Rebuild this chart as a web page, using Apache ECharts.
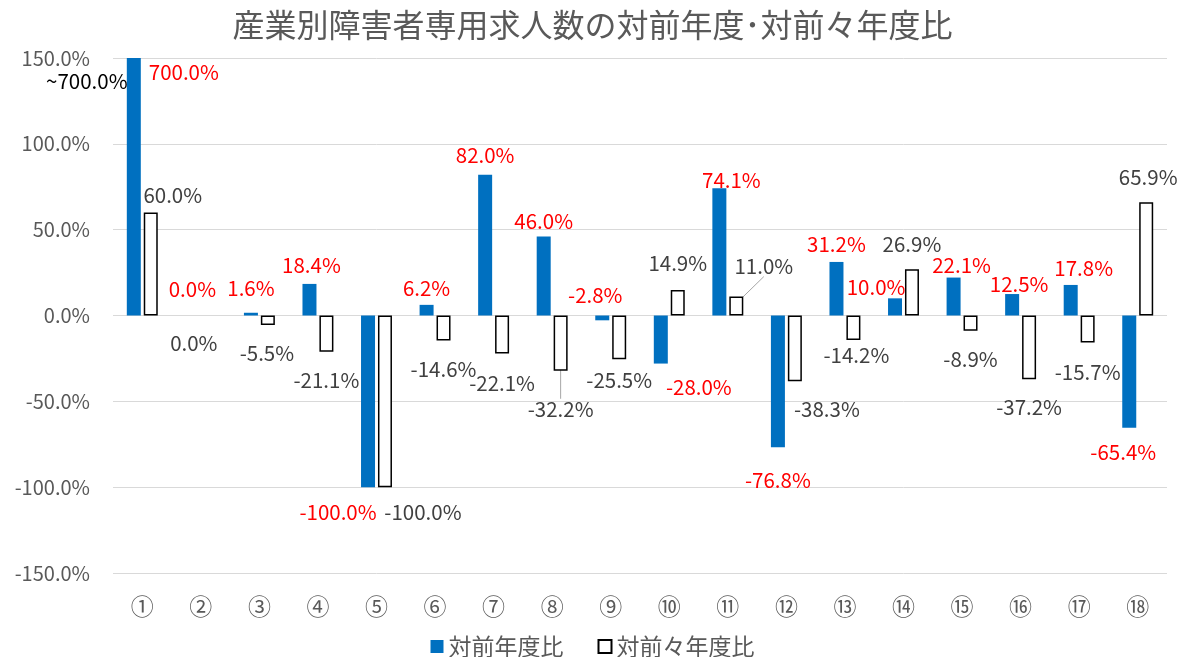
<!DOCTYPE html>
<html><head><meta charset="utf-8">
<script src="https://cdn.jsdelivr.net/npm/echarts@6/dist/echarts.min.js"></script>
<style>html,body{margin:0;padding:0;background:#fff}#c{width:1185px;height:657px}</style>
</head><body><div id="c"></div>
<script>
// ---- data ----
const titleText = '産業別障害者専用求人数の対前年度･対前々年度比';
const categories = ['①','②','③','④','⑤','⑥','⑦','⑧','⑨','⑩','⑪','⑫','⑬','⑭','⑮','⑯','⑰','⑱'];
const seriesNames = ['対前年度比', '対前々年度比'];
const yoyValues = [700.0, 0.0, 1.6, 18.4, -100.0, 6.2, 82.0, 46.0, -2.8, -28.0, 74.1, -76.8, 31.2, 10.0, 22.1, 12.5, 17.8, -65.4];
const twoYearValues = [60.0, 0.0, -5.5, -21.1, -100.0, -14.6, -22.1, -32.2, -25.5, 14.9, 11.0, -38.3, -14.2, 26.9, -8.9, -37.2, -15.7, 65.9];
const yMin = -150, yMax = 150, yInterval = 50;
const breakNote = '~700.0%';

// ---- label placement (position, dx, dy) ----
const yoyLabelLayout = [
  ['top',50,29.5],['top',0,-11.5],['top',0,-9],['top',2,-3],['bottom',-30,10],['top',0,-1],
  ['top',0,-4],['top',0,0],['top',-7,-5.5],['bottom',38,8],['top',12,7],['bottom',0,18],
  ['top',0,-2],['top',-19,4],['top',8,3],['top',7,5],['top',13,-1],['bottom',-6,9]
];
const twoLabelLayout = [
  ['top',22,-2.5],['bottom',-15.5,12.5],['bottom',-1,13],['bottom',0,13],['bottom',38,10],['bottom',0,13],
  ['bottom',0,15],['bottom',0,23],['bottom',0,6],['top',0,-11],['top',27.5,-15],['bottom',32,13],
  ['bottom',3,0],['top',0,-10],['bottom',0,13],['bottom',0,13],['bottom',0,14.5],['top',2,-9.5]
];
const guideLineItems = [7, 10];

const FONT = '"Noto Sans CJK JP", "Noto Sans", sans-serif';
const GREY = '#595959';
const fmt = v => v.toFixed(1) + '%';
const layouts = [yoyLabelLayout, twoLabelLayout];
const LBL = 20.5;

const chart = echarts.init(document.getElementById('c'), null, {renderer: 'canvas'});
chart.setOption({
  animation: false,
  backgroundColor: '#fff',
  textStyle: {fontFamily: FONT},
  title: {
    text: titleText, left: 'center', top: 4,
    textStyle: {fontFamily: FONT, fontSize: 32, fontWeight: 'normal', color: GREY}
  },
  legend: {
    top: 630, left: 'center', itemWidth: 13, itemHeight: 13, itemGap: 34,
    textStyle: {fontFamily: FONT, fontSize: 23, color: GREY},
    data: [
      {name: seriesNames[0], icon: 'rect'},
      {name: seriesNames[1], icon: 'rect', itemStyle: {color: '#fff', borderColor: '#000', borderWidth: 2}}
    ]
  },
  grid: {left: 113, right: 18, top: 58, bottom: 84, containLabel: false},
  xAxis: {
    type: 'category', data: categories,
    axisLine: {show: false, onZero: false}, axisTick: {show: false},
    axisLabel: {fontFamily: FONT, fontSize: 23, color: GREY, margin: 22}
  },
  yAxis: {
    type: 'value', min: yMin, max: yMax, interval: yInterval,
    axisLine: {show: false}, axisTick: {show: false},
    axisLabel: {fontFamily: FONT, fontSize: 20, color: GREY, margin: 23, formatter: fmt},
    splitLine: {lineStyle: {color: '#D9D9D9', width: 1}}
  },
  series: [
    {
      name: seriesNames[0], type: 'bar', barWidth: 14, barGap: '21%', clip: true,
      itemStyle: {color: '#0070C0'},
      label: {show: true, distance: 5, fontFamily: FONT, fontSize: LBL, lineHeight: LBL, color: '#FF0000',
        formatter: p => fmt(p.value)},
      data: yoyValues.map((v, i) => ({value: v, label: {position: yoyLabelLayout[i][0]}})),
      labelLayout: p => ({dx: layouts[p.seriesIndex][p.dataIndex][1], dy: layouts[p.seriesIndex][p.dataIndex][2]}),
      markPoint: {
        symbol: 'rect', symbolSize: 1, itemStyle: {color: 'rgba(0,0,0,0)'},
        label: {show: true, position: 'inside', fontFamily: FONT, fontSize: LBL, color: '#000',
          offset: [-47, 23], formatter: breakNote},
        data: [{coord: [categories[0], yMax]}]
      }
    },
    {
      name: seriesNames[1], type: 'bar', barWidth: 14, barGap: '21%',
      itemStyle: {color: '#fff', borderColor: '#000', borderWidth: 1.5},
      label: {show: true, distance: 5, fontFamily: FONT, fontSize: LBL, lineHeight: LBL, color: '#404040',
        formatter: p => fmt(p.value)},
      data: twoYearValues.map((v, i) => {
        const d = {value: v, label: {position: twoLabelLayout[i][0]}};
        if (v === 0) d.itemStyle = {borderWidth: 0};
        if (guideLineItems.includes(i)) d.labelLine = {show: true, lineStyle: {color: '#A6A6A6', width: 1}};
        return d;
      }),
      labelLayout: p => ({dx: layouts[p.seriesIndex][p.dataIndex][1], dy: layouts[p.seriesIndex][p.dataIndex][2]})
    }
  ]
});
</script>
</body></html>
